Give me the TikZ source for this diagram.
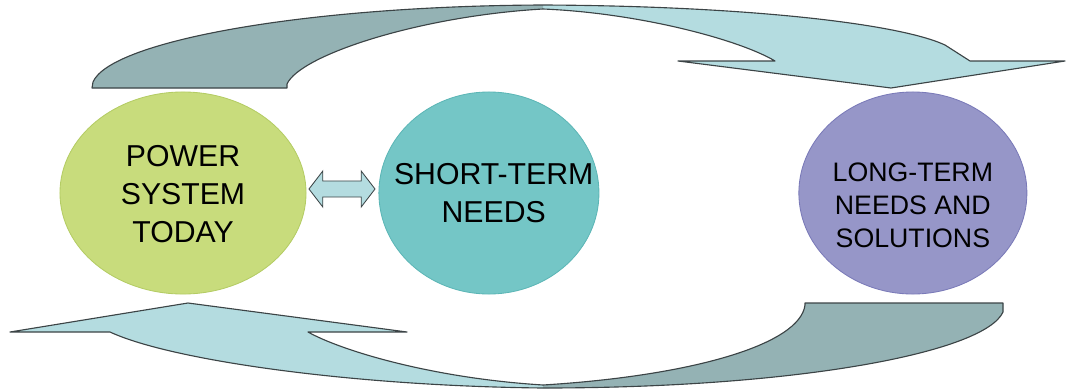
\documentclass[tikz,border=0pt]{standalone}
\usepackage{fontspec}
\setmainfont{Liberation Sans}
\usetikzlibrary{shapes.geometric, shapes.arrows, positioning}

\definecolor{todaygreen}{HTML}{C8DC7C}
\definecolor{todayedge}{HTML}{B4CC64}
\definecolor{shortteal}{HTML}{74C6C6}
\definecolor{shortedge}{HTML}{5CB6B6}
\definecolor{longpurple}{HTML}{9696C8}
\definecolor{longedge}{HTML}{7A7AB8}
\definecolor{swooshblue}{HTML}{B4DCE0}
\definecolor{swooshgray}{HTML}{94B2B4}
\definecolor{swooshline}{HTML}{3C4446}

% the two big turning arrows, in pixel units
\def\toparrow{(92,88) -- (287,88) -- (287,84)
    .. controls (300,55) and (420,16) .. (543,9)
    .. controls (640,13) and (740,40) .. (775,61)
    -- (678,61) -- (891,88) -- (1065,61) -- (970,61) -- (945,45)
    .. controls (900,24) and (750,6) .. (543,5)
    .. controls (300,6) and (110,42) .. (93,82) -- cycle}
\def\bottomarrow{(10,332) -- (188,303) -- (407,332) -- (308,332)
    .. controls (340,350) and (430,378) .. (543,385)
    .. controls (690,376) and (800,345) .. (805,305) -- (805,303)
    -- (1003,303) -- (1003,312)
    .. controls (985,352) and (800,388) .. (543,388)
    .. controls (350,386) and (170,360) .. (110,332) -- cycle}

\begin{document}
\begin{tikzpicture}[
    x=0.025cm, y=-0.025cm,
    node distance=1.8cm,
    bubble/.style={ellipse, draw, line width=0.6pt, minimum height=5.05cm, inner sep=0pt},
    caption/.style={align=center, font=\fontsize{21.5}{27}\selectfont},
    swoosh/.style={draw=swooshline, line width=0.8pt, line join=round},
    link/.style={double arrow, draw=swooshline, fill=swooshblue, line width=0.6pt,
        minimum height=1.65cm, inner xsep=0pt, inner ysep=0.19cm,
        double arrow head extend=0.25cm, double arrow tip angle=105}
]
\useasboundingbox (0,0) rectangle (1086,389);

% the three stages
\node[bubble, fill=todaygreen, draw=todayedge, minimum width=6.15cm] (today) at (183,193) {};
\node[bubble, fill=shortteal, draw=shortedge, minimum width=5.5cm, right=of today] (short) {};
\node[bubble, fill=longpurple, draw=longedge, minimum width=5.7cm, right=4.975cm of short] (long) {};

\node[caption] (today-text) at ([yshift=-0.03cm]today) {POWER\\SYSTEM\\TODAY};
\node[caption] (short-text) at ([xshift=0.12cm]short) {SHORT-TERM\\NEEDS};
\node[caption, font=\fontsize{19}{23.5}\selectfont] (long-text) at ([yshift=-0.3cm]long) {LONG-TERM\\NEEDS AND\\SOLUTIONS};

\node[link] (link) at (342,189) {};

% top arrow: gray tail, blue head
\fill[swooshblue] \toparrow;
\begin{scope}
  \clip (0,0) rectangle (543,389);
  \fill[swooshgray] \toparrow;
\end{scope}
\draw[swoosh] \toparrow;

% bottom arrow: gray tail, blue head
\fill[swooshblue] \bottomarrow;
\begin{scope}
  \clip (543,0) rectangle (1086,389);
  \fill[swooshgray] \bottomarrow;
\end{scope}
\draw[swoosh] \bottomarrow;
\end{tikzpicture}
\end{document}
